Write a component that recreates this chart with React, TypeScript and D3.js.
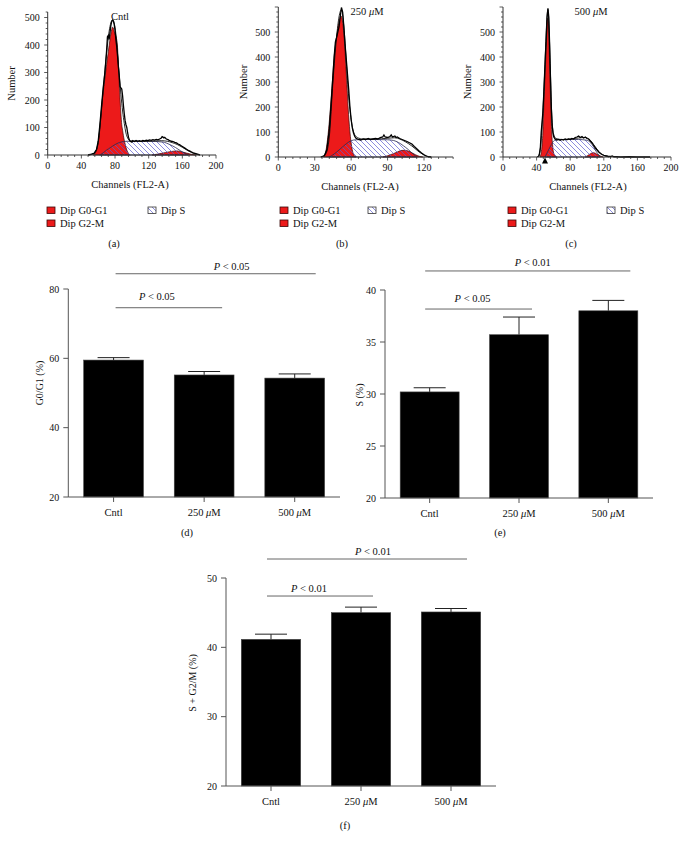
import React from "react";
import * as d3 from "d3";

type Pt = [number, number];

// ---------- Histogram data (channel, count) ----------
const cntlRaw: Pt[] = [[48,0],[52,3],[55,6],[58,20],[60,50],[62,110],[64,180],[66,245],[68,300],[70,380],[71,430],[72,435],[73,420],[74,445],[75,470],[76,485],[77,490],[78,488],[79,475],[80,455],[81,420],[82,395],[83,360],[84,320],[85,290],[86,248],[87,244],[88,240],[89,215],[90,180],[91,150],[92,125],[93,110],[94,100],[95,80],[96,65],[97,55],[98,50],[100,47],[101,52],[103,49],[105,53],[107,50],[109,52],[111,49],[113,53],[115,51],[117,54],[119,52],[121,55],[123,53],[125,56],[127,54],[129,57],[131,55],[133,58],[135,62],[136,67],[137,65],[138,62],[139,64],[141,58],[143,56],[145,52],[147,50],[149,49],[151,46],[153,44],[155,40],[157,37],[159,33],[161,29],[163,25],[165,21],[167,17],[169,14],[171,11],[173,8],[175,6],[177,4],[179,2],[181,0]];
const cntlFit: Pt[] = [[48,0],[55,5],[60,45],[63,130],[66,240],[70,370],[73,450],[75,480],[77,492],[79,480],[81,440],[83,370],[85,290],[87,220],[89,160],[91,115],[93,80],[95,62],[98,52],[105,50],[120,50],[135,52],[142,50],[148,45],[154,38],[160,28],[166,17],[171,9],[176,3],[181,0]];
const cntlG0G1: Pt[] = [[54,0],[57,10],[60,45],[62,100],[64,170],[66,230],[68,280],[70,330],[72,375],[74,420],[76,455],[77,465],[78,462],[79,450],[80,440],[82,420],[83,390],[84,330],[85,260],[86,200],[87,150],[88,110],[89,90],[90,70],[92,40],[94,18],[96,6],[98,0]];
const cntlS: Pt[] = [[62,0],[66,8],[70,18],[75,28],[80,38],[85,45],[90,49],[94,50],[120,50],[137,47],[145,38],[152,27],[158,15],[163,6],[167,0]];
const cntlG2M: Pt[] = [[124,0],[130,3],[135,6],[140,9],[145,12],[150,14],[153,15],[156,14],[160,11],[165,7],[170,3],[176,0]];

const midRaw: Pt[] = [[35,0],[38,5],[40,30],[42,110],[44,250],[46,400],[47,460],[48,478],[49,500],[50,520],[51,560],[52,598],[53,580],[54,520],[55,450],[56,390],[57,330],[58,270],[59,200],[60,150],[61,115],[62,95],[63,82],[64,75],[66,70],[68,68],[70,72],[72,70],[74,74],[76,70],[78,72],[80,74],[82,72],[84,78],[86,80],[87,88],[88,80],[90,78],[92,82],[93,88],[94,80],[96,84],[97,78],[98,80],[100,74],[102,70],[104,66],[106,62],[108,57],[110,52],[112,42],[114,33],[116,24],[118,16],[120,9],[122,4],[124,1],[126,0]];
const midFit: Pt[] = [[35,0],[39,12],[42,80],[45,300],[48,480],[50,560],[52,590],[54,520],[56,380],[58,240],[60,150],[62,100],[65,78],[70,72],[80,72],[90,75],[96,77],[100,72],[105,60],[110,44],[115,24],[120,8],[124,0]];
const midG0G1: Pt[] = [[37,0],[39,20],[41,90],[43,200],[44.5,300],[46,400],[48,480],[50,540],[51.7,564],[53,540],[54.5,460],[55.5,380],[56.5,290],[57.5,200],[59,100],[60.5,40],[62,10],[64,0]];
const midS: Pt[] = [[42,0],[46,12],[50,28],[54,45],[58,60],[62,68],[70,70],[80,70],[90,69],[95,66],[99,58],[103,45],[107,30],[111,12],[114,0]];
const midG2M: Pt[] = [[86,0],[90,5],[94,12],[98,20],[101,26],[104,27],[107,24],[110,17],[113,9],[116,3],[119,0]];

const highRaw: Pt[] = [[41,0],[43,5],[44.5,40],[45.5,100],[46.5,140],[47.5,180],[48.5,250],[49.5,330],[50.5,410],[51.5,480],[52.5,560],[53.5,595],[54.5,560],[55.5,450],[56.5,320],[57.5,200],[58.5,130],[59.5,95],[60.5,80],[62,72],[64,68],[66,70],[68,67],[70,70],[72,68],[74,72],[76,69],[78,72],[80,70],[82,74],[84,72],[86,78],[88,80],[90,84],[92,78],[94,82],[96,76],[98,80],[100,74],[102,72],[104,64],[106,56],[108,46],[110,36],[112,28],[114,20],[116,14],[118,10],[120,7],[122,5],[125,3],[128,2],[130,4],[132,1],[135,1],[140,0],[150,1],[160,0],[175,0]];
const highFit: Pt[] = [[41,0],[44,20],[47,150],[50,370],[52,540],[53.5,590],[55,500],[56.5,330],[58,170],[60,95],[63,74],[70,70],[90,76],[98,78],[102,72],[106,58],[110,40],[114,22],[118,10],[122,4],[126,0]];
const highG0G1: Pt[] = [[44,0],[46,30],[47.5,100],[48.5,200],[50,320],[51.5,440],[53,555],[54,540],[55,430],[56,300],[57,200],[58,100],[59,50],[60,20],[62,5],[64,0]];
const highS: Pt[] = [[50,0],[53,20],[56,40],[59,58],[62,68],[70,70],[90,70],[100,67],[104,58],[108,40],[111,22],[114,8],[116,0]];
const highG2M: Pt[] = [[98,0],[101,6],[104,13],[107,17],[110,15],[113,9],[116,4],[119,0]];
const highMarker: number[] = [50];

// ---------- Bar data ----------
const groups: string[] = ["Cntl", "250 μM", "500 μM"];
const g0g1Mean: number[] = [59.5, 55.2, 54.3];
const g0g1Err: number[] = [0.7, 1.0, 1.2];
const sMean: number[] = [30.2, 35.7, 38.0];
const sErr: number[] = [0.4, 1.7, 1.0];
const sg2mMean: number[] = [41.15, 45.0, 45.1];
const sg2mErr: number[] = [0.75, 0.8, 0.5];

const histYTicks: number[] = [0, 100, 200, 300, 400, 500];
const cntlXTicks: number[] = [0, 40, 80, 120, 160, 200];
const midXTicks: number[] = [0, 30, 60, 90, 120];
const highXTicks: number[] = [0, 40, 80, 120, 160, 200];
const g0g1YTicks: number[] = [20, 40, 60, 80];
const sYTicks: number[] = [20, 25, 30, 35, 40];
const sg2mYTicks: number[] = [20, 30, 40, 50];

const FONT = "'Liberation Serif', 'Times New Roman', serif";
const RED = "#ec1a1a";
const OUTLINE = "#3a0808";
const AXIS = "#333";

function MuText({ text, ...rest }: any) {
  const parts = text.split("μ");
  if (parts.length < 2) return <text {...rest}>{text}</text>;
  return (
    <text {...rest}>
      {parts[0]}
      <tspan fontStyle="italic">μ</tspan>
      {parts[1]}
    </text>
  );
}

function Hist(props: any) {
  const { xs, ys, yTop, xEnd, xTicks, xMinor, yMinor, raw, fit, g0g1, s, g2m, title, titleX, numberX, channelsX, marker } = props;
  const area = d3.area<Pt>().x((d) => xs(d[0])).y0(ys(0)).y1((d) => ys(d[1])).curve(d3.curveMonotoneX);
  const smooth = d3.line<Pt>().x((d) => xs(d[0])).y((d) => ys(d[1])).curve(d3.curveMonotoneX);
  const rawLine = d3.line<Pt>().x((d) => xs(d[0])).y((d) => ys(d[1]));
  const x0 = xs(0);
  const y0 = ys(0);
  const yMinorTicks = d3.range(0, yTop + 0.001, yMinor);
  const xMinorTicks = d3.range(0, xEnd + 0.001, xMinor);
  return (
    <g>
      <path d={area(g0g1) || ""} fill={RED} stroke={OUTLINE} strokeWidth={0.7} />
      <path d={area(g2m) || ""} fill={RED} stroke={OUTLINE} strokeWidth={0.7} />
      <path d={area(s) || ""} fill="url(#hatchS)" stroke="#2a2a50" strokeWidth={0.8} />
      <path d={smooth(fit) || ""} fill="none" stroke="#111" strokeWidth={0.9} />
      <path d={rawLine(raw) || ""} fill="none" stroke="#000" strokeWidth={1.3} />
      {/* axes */}
      <line x1={x0} x2={x0} y1={y0} y2={ys(yTop)} stroke={AXIS} strokeWidth={1} />
      <line x1={x0} x2={xs(xEnd)} y1={y0} y2={y0} stroke={AXIS} strokeWidth={1} />
      {yMinorTicks.map((v: number) => (
        <line key={"ym" + v} x1={x0} x2={x0 - (v % 100 === 0 ? 3.5 : 2)} y1={ys(v)} y2={ys(v)} stroke={AXIS} strokeWidth={0.8} />
      ))}
      {histYTicks.map((v) => (
        <text key={"yl" + v} x={x0 - 8} y={ys(v) + 3.5} fontSize={10} textAnchor="end" fontFamily={FONT} fill="#111">{v}</text>
      ))}
      {xMinorTicks.map((v: number) => (
        <line key={"xm" + v} x1={xs(v)} x2={xs(v)} y1={y0} y2={y0 + (xTicks.includes(v) ? 3.5 : 2)} stroke={AXIS} strokeWidth={0.8} />
      ))}
      {xTicks.map((v: number) => (
        <text key={"xl" + v} x={xs(v)} y={y0 + 14} fontSize={10} textAnchor="middle" fontFamily={FONT} fill="#111">{v}</text>
      ))}
      {marker &&
        marker.map((m: number) => (
          <path key={"mk" + m} d={`M${xs(m)},${y0 + 0.5} l-3,6 l6,0 z`} fill="#000" />
        ))}
      <text x={numberX} y={(ys(0) + ys(yTop)) / 2} fontSize={10.5} textAnchor="middle" fontFamily={FONT} fill="#111" transform={`rotate(-90 ${numberX} ${(ys(0) + ys(yTop)) / 2})`} dy={3}>Number</text>
      <text x={channelsX} y={y0 + 33} fontSize={10.5} textAnchor="middle" fontFamily={FONT} fill="#111">Channels (FL2-A)</text>
      <MuText text={title} x={titleX} y={ys(yTop) + 8} fontSize={10.5} textAnchor="middle" fontFamily={FONT} fill="#111" />
    </g>
  );
}

function Legend({ x, y, xS, label, labelX }: any) {
  return (
    <g fontFamily={FONT} fontSize={10.5} fill="#111">
      <rect x={x} y={y} width={8} height={6.5} fill={RED} stroke={OUTLINE} strokeWidth={0.8} />
      <text x={x + 13} y={y + 7}>Dip G0-G1</text>
      <rect x={x} y={y + 13} width={8} height={6.5} fill={RED} stroke={OUTLINE} strokeWidth={0.8} />
      <text x={x + 13} y={y + 20}>Dip G2-M</text>
      <rect x={xS} y={y} width={8} height={6.5} fill="url(#hatchS)" stroke="#333" strokeWidth={0.8} />
      <text x={xS + 13} y={y + 7}>Dip S</text>
      <text x={labelX} y={y + 40} textAnchor="middle">{label}</text>
    </g>
  );
}

function BarPanel(props: any) {
  const { means, errs, xRange, yDomain, yRange, yTicks, yLabel, yLabelX, yLabelY, sigs, panelLabel, panelLabelX, panelLabelY } = props;
  const xb = d3.scaleBand<string>().domain(groups).range(xRange).paddingInner(0.34).paddingOuter(0.17);
  const ys = d3.scaleLinear().domain(yDomain).range(yRange);
  const y0 = ys(yDomain[0]);
  const axisX = xRange[0];
  const cx = (i: number) => (xb(groups[i]) as number) + xb.bandwidth() / 2;
  return (
    <g fontFamily={FONT} fill="#111">
      {groups.map((g, i) => {
        const top = ys(means[i]);
        const et = ys(means[i] + errs[i]);
        return (
          <g key={g}>
            <line x1={cx(i)} x2={cx(i)} y1={top} y2={et} stroke="#222" strokeWidth={1} />
            <line x1={cx(i) - 16} x2={cx(i) + 16} y1={et} y2={et} stroke="#222" strokeWidth={1} />
            <rect x={xb(g)} y={top} width={xb.bandwidth()} height={y0 - top} fill="#000" stroke="#444" strokeWidth={0.6} />
          </g>
        );
      })}
      <line x1={axisX} x2={axisX} y1={y0} y2={ys(yDomain[1])} stroke="#555" strokeWidth={1} />
      <line x1={axisX} x2={xRange[1]} y1={y0} y2={y0} stroke="#555" strokeWidth={1} />
      {yTicks.map((v: number) => (
        <g key={"yt" + v}>
          <line x1={axisX - 5} x2={axisX} y1={ys(v)} y2={ys(v)} stroke="#555" strokeWidth={1} />
          <text x={axisX - 9} y={ys(v) + 3.5} fontSize={10} textAnchor="end">{v}</text>
        </g>
      ))}
      {groups.map((g, i) => (
        <g key={"xt" + g}>
          <line x1={cx(i)} x2={cx(i)} y1={y0} y2={y0 + 5} stroke="#555" strokeWidth={1} />
          <MuText text={g} x={cx(i)} y={y0 + 19} fontSize={10.5} textAnchor="middle" />
        </g>
      ))}
      <text x={yLabelX} y={yLabelY} fontSize={10} textAnchor="middle" transform={`rotate(-90 ${yLabelX} ${yLabelY})`} dy={3}>{yLabel}</text>
      {sigs.map((s: any, k: number) => {
        const x1 = cx(s.from) + s.x1Off;
        const x2 = cx(s.to) + s.x2Off;
        const yy = ys(s.level);
        return (
          <g key={"sig" + k}>
            <line x1={x1} x2={x2} y1={yy} y2={yy} stroke="#666" strokeWidth={1} />
            <text x={(x1 + x2) / 2 + s.dx} y={yy - s.gap} fontSize={10.5} textAnchor="middle">
              <tspan fontStyle="italic">P</tspan>
              {" < " + s.p}
            </text>
          </g>
        );
      })}
      <text x={panelLabelX} y={panelLabelY} fontSize={10.5} textAnchor="middle">{panelLabel}</text>
    </g>
  );
}

export default function App() {
  const xsA = d3.scaleLinear().domain([0, 200]).range([47.7, 216]);
  const ysA = d3.scaleLinear().domain([0, 500]).range([155, 17.5]);
  const xsB = d3.scaleLinear().domain([0, 120]).range([278.3, 424]);
  const ysB = d3.scaleLinear().domain([0, 500]).range([157, 32]);
  const xsC = d3.scaleLinear().domain([0, 200]).range([503, 671]);
  const ysC = d3.scaleLinear().domain([0, 500]).range([157, 32]);

  return (
    <svg width={687} height={844} style={{ position: "absolute", left: 0, top: 0, background: "#fff" }} fontFamily={FONT}>
      <defs>
        <pattern id="hatchS" patternUnits="userSpaceOnUse" width={5} height={5}>
          <path d="M-1,-1 L6,6 M-1,4 L1,6 M4,-1 L6,1" stroke="#5c5cd0" strokeWidth={0.7} />
        </pattern>
      </defs>
      <rect x={0} y={0} width={687} height={844} fill="#fff" />

      <Hist xs={xsA} ys={ysA} yTop={520} xEnd={200} xTicks={cntlXTicks} xMinor={8} yMinor={20}
        raw={cntlRaw} fit={cntlFit} g0g1={cntlG0G1} s={cntlS} g2m={cntlG2M}
        title="Cntl" titleX={120} numberX={12} channelsX={130} />
      <Hist xs={xsB} ys={ysB} yTop={600} xEnd={144} xTicks={midXTicks} xMinor={6} yMinor={20}
        raw={midRaw} fit={midFit} g0g1={midG0G1} s={midS} g2m={midG2M}
        title="250 μM" titleX={367} numberX={244} channelsX={360} />
      <Hist xs={xsC} ys={ysC} yTop={600} xEnd={200} xTicks={highXTicks} xMinor={8} yMinor={20}
        raw={highRaw} fit={highFit} g0g1={highG0G1} s={highS} g2m={highG2M}
        title="500 μM" titleX={591} numberX={468} channelsX={588} marker={highMarker} />

      <Legend x={47} y={207} xS={148} label="(a)" labelX={114} />
      <Legend x={280} y={207} xS={368} label="(b)" labelX={342} />
      <Legend x={508} y={207} xS={607} label="(c)" labelX={571} />

      <BarPanel means={g0g1Mean} errs={g0g1Err} xRange={[68.3, 340]} yDomain={[20, 80]} yRange={[497, 289]}
        yTicks={g0g1YTicks} yLabel="G0/G1 (%)" yLabelX={40} yLabelY={383}
        sigs={[
          { from: 0, to: 2, level: 84.4, p: "0.05", x1Off: 2, x2Off: 21, dx: 16, gap: 4 },
          { from: 0, to: 1, level: 74.6, p: "0.05", x1Off: 2, x2Off: 18, dx: -12, gap: 8 },
        ]}
        panelLabel="(d)" panelLabelX={187} panelLabelY={536} />
      <BarPanel means={sMean} errs={sErr} xRange={[385, 653]} yDomain={[20, 40]} yRange={[498, 290]}
        yTicks={sYTicks} yLabel="S (%)" yLabelX={360} yLabelY={395}
        sigs={[
          { from: 0, to: 2, level: 41.83, p: "0.01", x1Off: -4.5, x2Off: 22, dx: 5, gap: 4.5 },
          { from: 0, to: 1, level: 38.17, p: "0.05", x1Off: -4.5, x2Off: 13, dx: -6, gap: 7 },
        ]}
        panelLabel="(e)" panelLabelX={500} panelLabelY={536} />
      <BarPanel means={sg2mMean} errs={sg2mErr} xRange={[226, 496]} yDomain={[20, 50]} yRange={[786, 578]}
        yTicks={sg2mYTicks} yLabel="S + G2/M (%)" yLabelX={193} yLabelY={683}
        sigs={[
          { from: 0, to: 2, level: 52.74, p: "0.01", x1Off: -4, x2Off: 16, dx: 6, gap: 4 },
          { from: 0, to: 1, level: 47.4, p: "0.01", x1Off: -4, x2Off: 12, dx: -11, gap: 4.5 },
        ]}
        panelLabel="(f)" panelLabelX={345} panelLabelY={829} />
    </svg>
  );
}
